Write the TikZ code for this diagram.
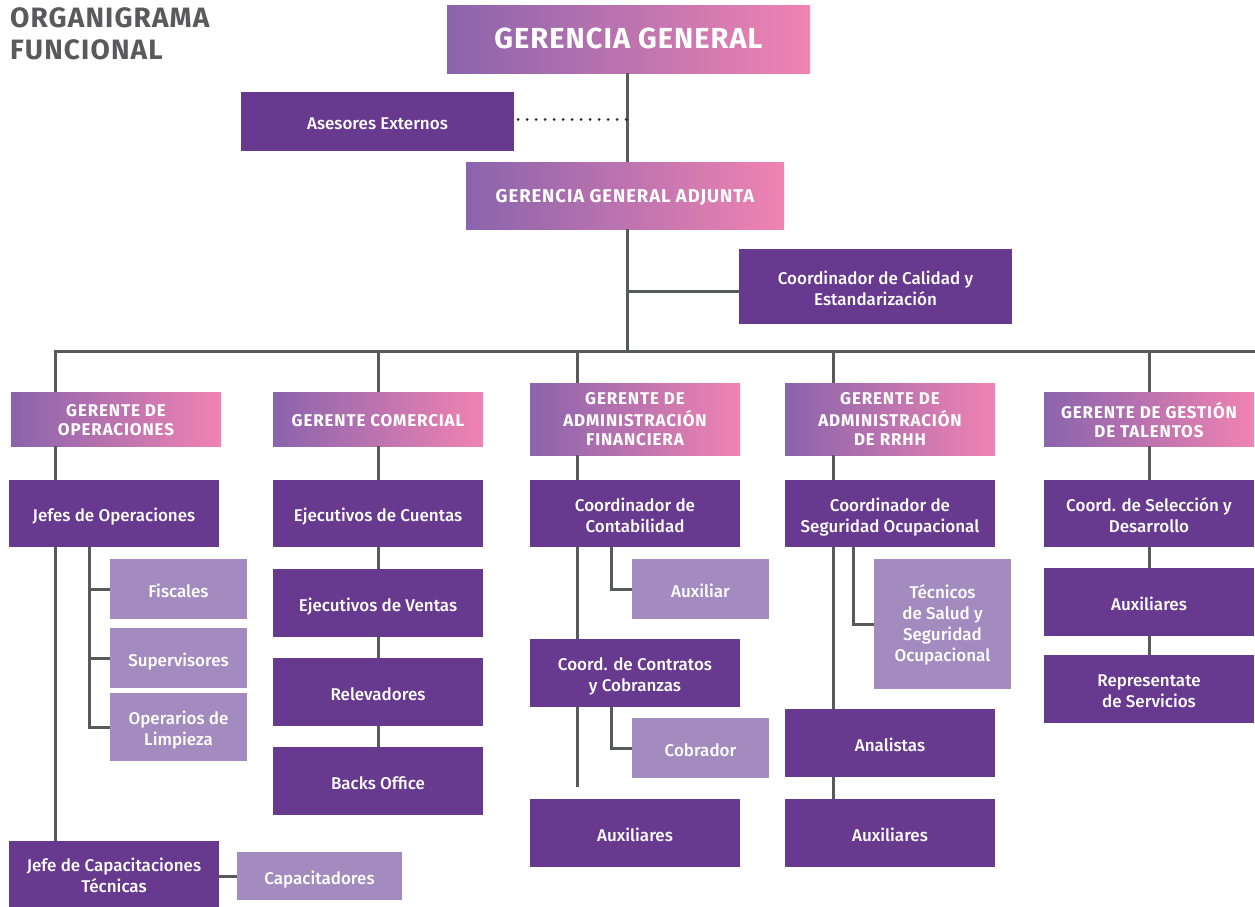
\documentclass[tikz,border=0pt]{standalone}
\usepackage{fontspec}
\setmainfont{Fira Sans}
\newfontfamily\bxfont{Fira Sans Medium}
\newfontfamily\hdfont{Fira Sans}[LetterSpace=5]
\newfontfamily\ggfont{Fira Sans}[LetterSpace=3.5]
\newfontfamily\ttfont{Fira Sans}[LetterSpace=4]
\definecolor{dp}{HTML}{673A8F}
\definecolor{lp}{HTML}{A38BBF}
\definecolor{gl}{HTML}{8A64AC}
\definecolor{gr}{HTML}{F083B2}
\definecolor{ln}{HTML}{58595B}
\definecolor{tt}{HTML}{5A5A5C}
\newcommand\orgshift{4pt}
\newcommand\orgbox[7]{\node[#1,minimum width={(#4)-(#2)},minimum height={(#5)-(#3)}] (#6) at (#2,#3) {\raisebox{-\orgshift}[\height][\depth]{\begin{tabular}{@{}c@{}}#7\end{tabular}}};}
\begin{document}
\begin{tikzpicture}[x=1pt,y=-1pt,
 tshift/.store in=\orgshift,
 basebox/.style={anchor=north west, inner sep=0pt, outer sep=0pt, text=white},
 dbox/.style={basebox, fill=dp, tshift=4pt, font=\bxfont\fontsize{17}{21}\selectfont},
 lbox/.style={basebox, fill=lp, tshift=4pt, font=\bxfont\fontsize{17}{21}\selectfont},
 gbox/.style={basebox, left color=gl, right color=gr, tshift=3.5pt, font=\hdfont\bfseries\fontsize{17}{18.5}\selectfont},
 conn/.style={draw=ln, line width=3pt},
 dotline/.style={draw=black!85, line width=3pt, line cap=round, dash pattern=on 0pt off 9pt},
]
\useasboundingbox (0,0) rectangle (1255,907);

\node[anchor=north west, inner sep=0pt, align=left, text=tt, font=\ttfont\bfseries\fontsize{28}{32}\selectfont] (title) at (10,7) {ORGANIGRAMA\\FUNCIONAL};

\orgbox{gbox,tshift=2.4pt,font=\ggfont\bfseries\fontsize{29}{32}\selectfont}{447}{6}{810}{73}{gg}{GERENCIA GENERAL}
\orgbox{dbox}{241}{92}{514}{151}{ase}{Asesores Externos}
\orgbox{gbox,tshift=2.9pt,font=\hdfont\bfseries\fontsize{18.5}{20}\selectfont}{466}{162}{784}{229}{gga}{GERENCIA GENERAL ADJUNTA}
\orgbox{dbox}{739}{249}{1012}{324}{cal}{Coordinador de Calidad y\\Estandarización}

\orgbox{gbox}{11}{392}{221}{446}{g1}{GERENTE DE\\OPERACIONES}
\orgbox{gbox}{273}{392}{483}{446}{g2}{GERENTE COMERCIAL}
\orgbox{gbox,tshift=2.2pt}{530}{383}{740}{455}{g3}{GERENTE DE\\ADMINISTRACIÓN\\FINANCIERA}
\orgbox{gbox,tshift=2.2pt}{785}{383}{995}{455}{g4}{GERENTE DE\\ADMINISTRACIÓN\\DE RRHH}
\orgbox{gbox}{1044}{392}{1254}{446}{g5}{GERENTE DE GESTIÓN\\DE TALENTOS}

\orgbox{dbox}{9}{480}{219}{547}{c1a}{Jefes de Operaciones}
\orgbox{lbox}{110}{559}{247}{619}{c1f}{Fiscales}
\orgbox{lbox}{110}{628}{247}{688}{c1s}{Supervisores}
\orgbox{lbox}{110}{693}{247}{761}{c1o}{Operarios de\\Limpieza}
\orgbox{dbox}{9}{841}{219}{907}{c1j}{Jefe de Capacitaciones\\Técnicas}
\orgbox{lbox}{237}{852}{402}{900}{c1c}{Capacitadores}

\orgbox{dbox}{273}{480}{483}{547}{c2a}{Ejecutivos de Cuentas}
\orgbox{dbox}{273}{569}{483}{637}{c2b}{Ejecutivos de Ventas}
\orgbox{dbox}{273}{658}{483}{726}{c2c}{Relevadores}
\orgbox{dbox}{273}{747}{483}{815}{c2d}{Backs Office}

\orgbox{dbox}{530}{480}{740}{547}{c3a}{Coordinador de\\Contabilidad}
\orgbox{lbox}{632}{559}{769}{619}{c3x}{Auxiliar}
\orgbox{dbox}{530}{639}{740}{707}{c3b}{Coord. de Contratos\\y Cobranzas}
\orgbox{lbox}{632}{718}{769}{778}{c3y}{Cobrador}
\orgbox{dbox}{530}{799}{740}{867}{c3c}{Auxiliares}

\orgbox{dbox}{785}{480}{995}{547}{c4a}{Coordinador de\\Seguridad Ocupacional}
\orgbox{lbox,tshift=2pt}{874}{559}{1011}{689}{c4x}{Técnicos\\de Salud y\\Seguridad\\Ocupacional}
\orgbox{dbox}{785}{709}{995}{777}{c4b}{Analistas}
\orgbox{dbox}{785}{799}{995}{867}{c4c}{Auxiliares}

\orgbox{dbox}{1044}{480}{1254}{547}{c5a}{Coord. de Selección y\\Desarrollo}
\orgbox{dbox}{1044}{568}{1254}{636}{c5b}{Auxiliares}
\orgbox{dbox}{1044}{655}{1254}{723}{c5c}{Representate\\de Servicios}

% coordinates
\coordinate (sx) at (627,0);
\coordinate (bus) at (0,351);
\coordinate (busR) at (1256,351);
\coordinate (calY) at (0,291);
\coordinate (x1) at (55,0);
\coordinate (x2) at (378,0);
\coordinate (x3) at (577,0);
\coordinate (x4) at (833,0);
\coordinate (x5) at (1149,0);
\coordinate (s1) at (89,0);
\coordinate (s3) at (611,0);
\coordinate (s4) at (853,0);
\coordinate (end3) at (577,787);

% top
\draw[conn] (sx |- gg.south) -- (sx |- gga.north);
\draw[conn] (sx |- gga.south) -- (sx |- bus);
\draw[conn] (sx |- calY) -- (cal.west |- calY);
\draw[dotline] (ase.east) ++(4,-2) coordinate (dotA) (dotA) -- (sx |- dotA);
% bus
\draw[conn] (x1 |- g1.north) -- (x1 |- bus) -- (busR);
\draw[conn] (x2 |- bus) -- (x2 |- g2.north);
\draw[conn] (x3 |- bus) -- (x3 |- g3.north);
\draw[conn] (x4 |- bus) -- (x4 |- g4.north);
\draw[conn] (x5 |- bus) -- (x5 |- g5.north);
% col 1
\draw[conn] (x1 |- g1.south) -- (x1 |- c1a.north);
\draw[conn] (x1 |- c1a.south) -- (x1 |- c1j.north);
\draw[conn] (s1 |- c1a.south) |- (c1o.west);
\draw[conn] (s1 |- c1f.west) -- (c1f.west);
\draw[conn] (s1 |- c1s.west) -- (c1s.west);
\draw[conn] (c1c.west -| c1j.east) -- (c1c.west);
% col 2
\draw[conn] (x2 |- g2.south) -- (x2 |- c2a.north);
\draw[conn] (x2 |- c2a.south) -- (x2 |- c2b.north);
\draw[conn] (x2 |- c2b.south) -- (x2 |- c2c.north);
\draw[conn] (x2 |- c2c.south) -- (x2 |- c2d.north);
% col 3
\draw[conn] (x3 |- g3.south) -- (x3 |- c3a.north);
\draw[conn] (x3 |- c3a.south) -- (x3 |- c3b.north);
\draw[conn] (x3 |- c3b.south) -- (end3);
\draw[conn] (s3 |- c3a.south) |- (c3x.west);
\draw[conn] (s3 |- c3b.south) |- (c3y.west);
% col 4
\draw[conn] (x4 |- g4.south) -- (x4 |- c4a.north);
\draw[conn] (x4 |- c4a.south) -- (x4 |- c4b.north);
\draw[conn] (x4 |- c4b.south) -- (x4 |- c4c.north);
\draw[conn] (s4 |- c4a.south) |- (c4x.west);
% col 5
\draw[conn] (x5 |- g5.south) -- (x5 |- c5a.north);
\draw[conn] (x5 |- c5a.south) -- (x5 |- c5b.north);
\draw[conn] (x5 |- c5b.south) -- (x5 |- c5c.north);
\end{tikzpicture}
\end{document}
